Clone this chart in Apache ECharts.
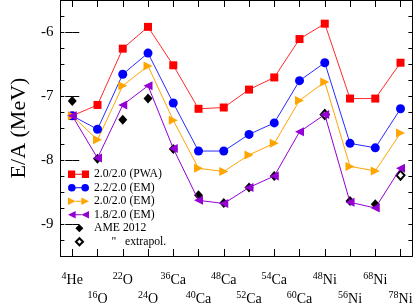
<!DOCTYPE html>
<html>
<head>
<meta charset="utf-8">
<script src="https://cdn.jsdelivr.net/npm/echarts@6/dist/echarts.min.js"></script>
<style>html,body{margin:0;padding:0;background:#fff}#c{width:415px;height:306px}</style>
</head>
<body>
<div id="c"></div>
<script>
var massNumbers = [4, 16, 22, 24, 36, 40, 48, 52, 54, 60, 48, 56, 68, 78];
var elements = ['He', 'O', 'O', 'O', 'Ca', 'Ca', 'Ca', 'Ca', 'Ca', 'Ca', 'Ni', 'Ni', 'Ni', 'Ni'];
var pwa20 = [-7.31, -7.14, -6.26, -5.92, -6.52, -7.20, -7.18, -6.90, -6.71, -6.11, -5.87, -7.04, -7.04, -6.48];
var em22 = [-7.31, -7.52, -6.66, -6.33, -7.11, -7.86, -7.86, -7.60, -7.42, -6.76, -6.48, -7.74, -7.81, -7.20];
var em20 = [-7.31, -7.685, -6.84, -6.53, -7.38, -8.13, -8.18, -7.92, -7.74, -7.07, -6.78, -8.10, -8.17, -7.58];
var em18 = [-7.31, -7.97, -7.14, -6.84, -7.82, -8.63, -8.68, -8.43, -8.25, -7.56, -7.29, -8.66, -8.75, -8.13];
var ame2012 = [-7.08, -7.98, -7.37, -7.04, -7.83, -8.55, -8.67, -8.43, -8.25, null, null, -8.64, -8.69, null];
var ameExtrapol = [null, null, null, null, null, null, null, null, null, null, -7.29, null, null, -8.24];
var yLabels = [-9, -8, -7, -6];
var seriesNames = ['2.0/2.0 (PWA)', '2.2/2.0 (EM)', '2.0/2.0 (EM)', '1.8/2.0 (EM)', 'AME 2012', '"   extrapol.'];

var FONT = 'Liberation Serif';
function pts(arr) {
  var out = [];
  arr.forEach(function (v, i) { if (v !== null) out.push([i, v]); });
  return out;
}
var allIdx = massNumbers.map(function (_, i) { return i; });
var evenIdx = allIdx.filter(function (i) { return i % 2 === 0; });
var oddIdx = allIdx.filter(function (i) { return i % 2 === 1; });
var quarterTicks = [];
for (var q = -9.5; q <= -5.5 + 1e-9; q += 0.25) quarterTicks.push(Math.round(q * 100) / 100);

var triR = 'path://M0,0L10,5L0,10Z';
var triL = 'path://M10,0L0,5L10,10Z';
var xLabelCommon = {
  formatter: function (v) { var i = Math.round(v); return '{s|' + massNumbers[i] + '}{e|' + elements[i] + '}'; },
  color: '#000',
  rich: {
    s: { fontSize: 10, lineHeight: 6, verticalAlign: 'top', fontFamily: FONT, color: '#000' },
    e: { fontSize: 14, lineHeight: 16, verticalAlign: 'bottom', fontFamily: FONT, color: '#000' }
  }
};
var xBase = { type: 'value', min: -0.47, max: 13.47, splitLine: { show: false } };
function merge(a, b) { var o = {}; for (var k in a) o[k] = a[k]; for (var k2 in b) o[k2] = b[k2]; return o; }

var chart = echarts.init(document.getElementById('c'), null, { renderer: 'canvas' });
chart.setOption({
  animation: false,
  backgroundColor: '#fff',
  grid: { left: 45, right: 2, top: 0, bottom: 48, containLabel: false },
  xAxis: [
    merge(xBase, { position: 'bottom', axisLine: { show: true, onZero: false, lineStyle: { color: '#000', width: 1 } },
      axisTick: { show: true, inside: true, length: 7, customValues: allIdx, lineStyle: { color: '#000' } },
      axisLabel: merge(xLabelCommon, { customValues: evenIdx, margin: 15 }) }),
    merge(xBase, { position: 'bottom', axisLine: { show: false }, axisTick: { show: false },
      axisLabel: merge(xLabelCommon, { customValues: oddIdx, margin: 34 }) }),
    merge(xBase, { position: 'top', axisLine: { show: true, onZero: false, lineStyle: { color: '#000', width: 1 } },
      axisTick: { show: true, inside: true, length: 7, customValues: allIdx, lineStyle: { color: '#000' } },
      axisLabel: { show: false } })
  ],
  yAxis: [
    { type: 'value', min: -9.5, max: -5.5, position: 'left', splitLine: { show: false },
      axisLine: { show: true, onZero: false, lineStyle: { color: '#000', width: 1 } },
      axisTick: { show: true, inside: true, length: 4, customValues: quarterTicks, lineStyle: { color: '#000' } },
      axisLabel: { customValues: yLabels, margin: 7, fontSize: 15, fontFamily: FONT, color: '#000', formatter: function (v) { return String(v); } },
      name: 'E/A (MeV)', nameLocation: 'middle', nameGap: 23,
      nameTextStyle: { fontSize: 22, fontFamily: FONT, color: '#000' } },
    { type: 'value', min: -9.5, max: -5.5, position: 'left', splitLine: { show: false },
      axisLine: { show: false }, axisLabel: { show: false },
      axisTick: { show: true, inside: true, length: 7, customValues: yLabels, lineStyle: { color: '#000' } } },
    { type: 'value', min: -9.5, max: -5.5, position: 'right', splitLine: { show: false },
      axisLine: { show: true, onZero: false, lineStyle: { color: '#000', width: 1 } }, axisLabel: { show: false },
      axisTick: { show: true, inside: true, length: 4, customValues: quarterTicks, lineStyle: { color: '#000' } } },
    { type: 'value', min: -9.5, max: -5.5, position: 'right', splitLine: { show: false },
      axisLine: { show: false }, axisLabel: { show: false },
      axisTick: { show: true, inside: true, length: 7, customValues: yLabels, lineStyle: { color: '#000' } } }
  ],
  legend: {
    orient: 'vertical', left: 67, top: 167.5, padding: 0, itemGap: 0, itemWidth: 21, itemHeight: 8,
    selectedMode: false,
    textStyle: { fontFamily: FONT, fontSize: 11.7, color: '#000', lineHeight: 13.5 },
    formatter: function (n) { return n === seriesNames[5] ? '      ' + n : n; },
    data: [
      { name: seriesNames[0], icon: 'path://M0,0h7.5v8h-7.5zM7.5,3.5h7v1h-7zM14.5,0h7.5v8h-7.5z', itemStyle: { borderWidth: 0 } },
      { name: seriesNames[1], icon: 'path://M0,4a4,4 0 1,0 8,0a4,4 0 1,0 -8,0zM8,3.5h6v1h-6zM14,4a4,4 0 1,0 8,0a4,4 0 1,0 -8,0z', itemStyle: { borderWidth: 0 } },
      { name: seriesNames[2], icon: 'path://M0,0L8,4L0,8zM8,3.5h6v1h-6zM14,0L22,4L14,8z', itemStyle: { borderWidth: 0 } },
      { name: seriesNames[3], icon: 'path://M8,0L0,4L8,8zM8,3.5h6v1h-6zM22,0L14,4L22,8z', itemStyle: { borderWidth: 0 } },
      { name: seriesNames[4], icon: 'path://M0,-0.5M22,8.5M12,-0.5L16.5,4L12,8.5L7.5,4Z', itemStyle: { borderWidth: 0 } },
      { name: seriesNames[5], icon: 'path://M0,0M22,8M12,0.3L15.7,4L12,7.7L8.3,4Z' }
    ]
  },
  series: [
    { name: seriesNames[0], type: 'line', data: pts(pwa20), symbol: 'rect', symbolSize: 8,
      itemStyle: { color: '#ff0000' }, lineStyle: { color: '#ff2a2a', width: 1 } },
    { name: seriesNames[1], type: 'line', data: pts(em22), symbol: 'circle', symbolSize: 9,
      itemStyle: { color: '#0000ff' }, lineStyle: { color: '#2a2aff', width: 1 } },
    { name: seriesNames[2], type: 'line', data: pts(em20), symbol: triR, symbolSize: 9,
      itemStyle: { color: '#ffa500' }, lineStyle: { color: '#ffa500', width: 1 } },
    { name: seriesNames[3], type: 'line', data: pts(em18), symbol: triL, symbolSize: 9,
      itemStyle: { color: '#9400d3' }, lineStyle: { color: '#9400d3', width: 1 } },
    { name: seriesNames[4], type: 'scatter', data: pts(ame2012), symbol: 'diamond', symbolSize: [9, 10],
      itemStyle: { color: '#000', opacity: 1 } },
    { name: seriesNames[5], type: 'scatter', data: pts(ameExtrapol), symbol: 'diamond', symbolSize: [8, 9],
      itemStyle: { color: 'rgba(255,255,255,0)', borderColor: '#000', borderWidth: 2, opacity: 1 } }
  ]
});
</script>
</body>
</html>
